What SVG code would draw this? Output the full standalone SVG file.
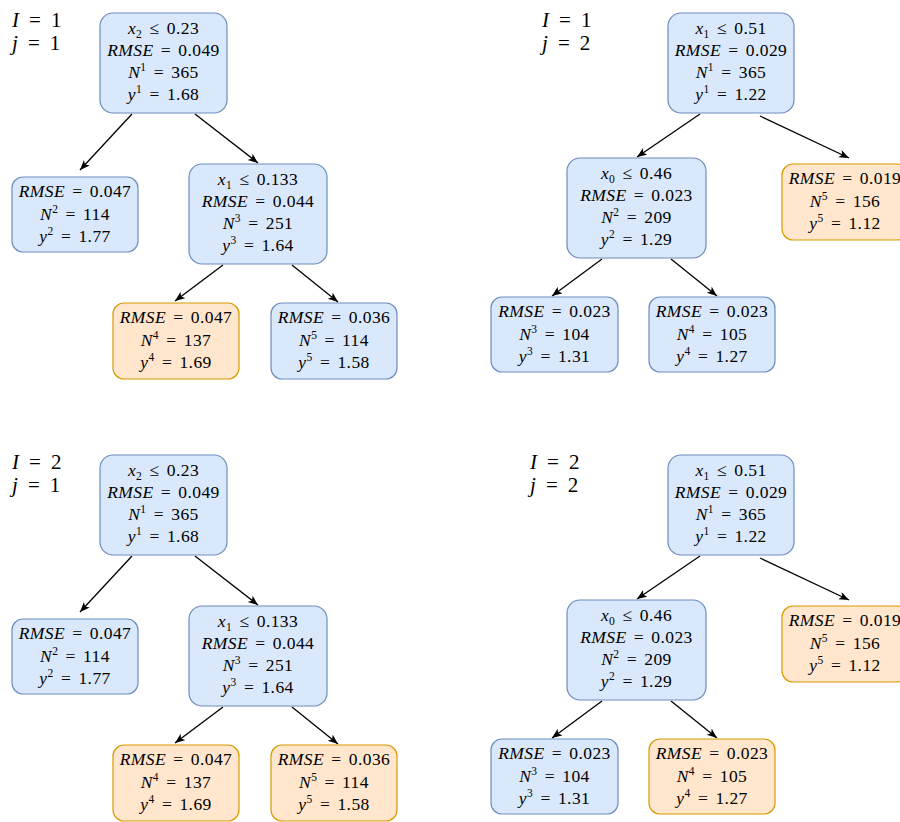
<svg xmlns="http://www.w3.org/2000/svg" width="900" height="822" viewBox="0 0 900 822">
<defs>
<style>
.b{fill:#dae8fc;stroke:#6c8ebf;stroke-width:1.2}
.o{fill:#ffe6cc;stroke:#d79b00;stroke-width:1.2}
text{font-family:"Liberation Serif","DejaVu Serif",serif;font-size:17.5px;fill:#000;text-anchor:middle;word-spacing:2.5px;letter-spacing:0.4px}
.lab{font-size:21px;text-anchor:start;word-spacing:4px}
.i{font-style:italic}
.s{font-size:11.5px}
.e{stroke:#000;stroke-width:1.3;fill:none;marker-end:url(#ar)}
</style>
<marker id="ar" markerUnits="userSpaceOnUse" markerWidth="12" markerHeight="10" refX="10" refY="4" orient="auto" viewBox="0 0 12 10">
<path d="M0,0 L10,4 L0,8 L2.5,4 z" fill="#000"/>
</marker>
</defs>

<!-- Panel labels -->
<g id="labels">
<text class="lab" x="12" y="27"><tspan class="i">I</tspan> = 1</text>
<text class="lab" x="12" y="50"><tspan class="i">j</tspan> = 1</text>
<text class="lab" x="542" y="27"><tspan class="i">I</tspan> = 1</text>
<text class="lab" x="542" y="50"><tspan class="i">j</tspan> = 2</text>
<text class="lab" x="12" y="469"><tspan class="i">I</tspan> = 2</text>
<text class="lab" x="12" y="492"><tspan class="i">j</tspan> = 1</text>
<text class="lab" x="530" y="469"><tspan class="i">I</tspan> = 2</text>
<text class="lab" x="530" y="492"><tspan class="i">j</tspan> = 2</text>
</g>

<g id="connectors">
<line class="e" x1="132" y1="114" x2="80" y2="170"/>
<line class="e" x1="195" y1="114" x2="258" y2="163"/>
<line class="e" x1="223" y1="265" x2="175" y2="301"/>
<line class="e" x1="292" y1="265" x2="338" y2="302"/>
<line class="e" x1="700" y1="114" x2="637" y2="157"/>
<line class="e" x1="760" y1="116" x2="849" y2="158"/>
<line class="e" x1="602" y1="259" x2="552" y2="296"/>
<line class="e" x1="671" y1="259" x2="717" y2="296"/>
<line class="e" x1="132" y1="556" x2="80" y2="612"/>
<line class="e" x1="195" y1="556" x2="258" y2="605"/>
<line class="e" x1="223" y1="707" x2="175" y2="743"/>
<line class="e" x1="292" y1="707" x2="338" y2="744"/>
<line class="e" x1="700" y1="556" x2="637" y2="599"/>
<line class="e" x1="760" y1="558" x2="849" y2="600"/>
<line class="e" x1="602" y1="701" x2="552" y2="738"/>
<line class="e" x1="671" y1="701" x2="717" y2="738"/>
</g>

<!-- Panel A: I=1, j=1 -->
<g id="a1">
<rect class="b" x="100" y="13" width="127" height="100" rx="13"/>
<text x="163.5" y="34"><tspan class="i">x</tspan><tspan class="s" dy="4">2</tspan><tspan dy="-4"> ≤ 0.23</tspan></text>
<text x="163.5" y="56"><tspan class="i">RMSE</tspan> = 0.049</text>
<text x="163.5" y="78"><tspan class="i">N</tspan><tspan class="s" dy="-7">1</tspan><tspan dy="7"> = 365</tspan></text>
<text x="163.5" y="100"><tspan class="i">y</tspan><tspan class="s" dy="-7">1</tspan><tspan dy="7"> = 1.68</tspan></text>
</g>
<g id="a2">
<rect class="b" x="12" y="177" width="126" height="75" rx="11"/>
<text x="75" y="197"><tspan class="i">RMSE</tspan> = 0.047</text>
<text x="75" y="220"><tspan class="i">N</tspan><tspan class="s" dy="-7">2</tspan><tspan dy="7"> = 114</tspan></text>
<text x="75" y="242"><tspan class="i">y</tspan><tspan class="s" dy="-7">2</tspan><tspan dy="7"> = 1.77</tspan></text>
</g>
<g id="a3">
<rect class="b" x="189" y="164" width="138" height="100" rx="13"/>
<text x="258" y="185"><tspan class="i">x</tspan><tspan class="s" dy="4">1</tspan><tspan dy="-4"> ≤ 0.133</tspan></text>
<text x="258" y="207"><tspan class="i">RMSE</tspan> = 0.044</text>
<text x="258" y="229"><tspan class="i">N</tspan><tspan class="s" dy="-7">3</tspan><tspan dy="7"> = 251</tspan></text>
<text x="258" y="251"><tspan class="i">y</tspan><tspan class="s" dy="-7">3</tspan><tspan dy="7"> = 1.64</tspan></text>
</g>
<g id="a4">
<rect class="o" x="113" y="303" width="126" height="76" rx="11"/>
<text x="176" y="323"><tspan class="i">RMSE</tspan> = 0.047</text>
<text x="176" y="346"><tspan class="i">N</tspan><tspan class="s" dy="-7">4</tspan><tspan dy="7"> = 137</tspan></text>
<text x="176" y="368"><tspan class="i">y</tspan><tspan class="s" dy="-7">4</tspan><tspan dy="7"> = 1.69</tspan></text>
</g>
<g id="a5">
<rect class="b" x="271" y="303" width="126" height="76" rx="11"/>
<text x="334" y="323"><tspan class="i">RMSE</tspan> = 0.036</text>
<text x="334" y="346"><tspan class="i">N</tspan><tspan class="s" dy="-7">5</tspan><tspan dy="7"> = 114</tspan></text>
<text x="334" y="368"><tspan class="i">y</tspan><tspan class="s" dy="-7">5</tspan><tspan dy="7"> = 1.58</tspan></text>
</g>

<!-- Panel B: I=1, j=2 -->
<g id="b1">
<rect class="b" x="668" y="13" width="126" height="100" rx="13"/>
<text x="731" y="34"><tspan class="i">x</tspan><tspan class="s" dy="4">1</tspan><tspan dy="-4"> ≤ 0.51</tspan></text>
<text x="731" y="56"><tspan class="i">RMSE</tspan> = 0.029</text>
<text x="731" y="78"><tspan class="i">N</tspan><tspan class="s" dy="-7">1</tspan><tspan dy="7"> = 365</tspan></text>
<text x="731" y="100"><tspan class="i">y</tspan><tspan class="s" dy="-7">1</tspan><tspan dy="7"> = 1.22</tspan></text>
</g>
<g id="b2">
<rect class="b" x="567" y="158" width="139" height="100" rx="13"/>
<text x="636.5" y="179"><tspan class="i">x</tspan><tspan class="s" dy="4">0</tspan><tspan dy="-4"> ≤ 0.46</tspan></text>
<text x="636.5" y="201"><tspan class="i">RMSE</tspan> = 0.023</text>
<text x="636.5" y="223"><tspan class="i">N</tspan><tspan class="s" dy="-7">2</tspan><tspan dy="7"> = 209</tspan></text>
<text x="636.5" y="245"><tspan class="i">y</tspan><tspan class="s" dy="-7">2</tspan><tspan dy="7"> = 1.29</tspan></text>
</g>
<g id="b5">
<rect class="o" x="782" y="164" width="126" height="76" rx="11"/>
<text x="845" y="184"><tspan class="i">RMSE</tspan> = 0.019</text>
<text x="845" y="207"><tspan class="i">N</tspan><tspan class="s" dy="-7">5</tspan><tspan dy="7"> = 156</tspan></text>
<text x="845" y="229"><tspan class="i">y</tspan><tspan class="s" dy="-7">5</tspan><tspan dy="7"> = 1.12</tspan></text>
</g>
<g id="b3">
<rect class="b" x="491" y="297" width="127" height="75" rx="11"/>
<text x="554.5" y="317"><tspan class="i">RMSE</tspan> = 0.023</text>
<text x="554.5" y="340"><tspan class="i">N</tspan><tspan class="s" dy="-7">3</tspan><tspan dy="7"> = 104</tspan></text>
<text x="554.5" y="362"><tspan class="i">y</tspan><tspan class="s" dy="-7">3</tspan><tspan dy="7"> = 1.31</tspan></text>
</g>
<g id="b4">
<rect class="b" x="649" y="297" width="126" height="75" rx="11"/>
<text x="712" y="317"><tspan class="i">RMSE</tspan> = 0.023</text>
<text x="712" y="340"><tspan class="i">N</tspan><tspan class="s" dy="-7">4</tspan><tspan dy="7"> = 105</tspan></text>
<text x="712" y="362"><tspan class="i">y</tspan><tspan class="s" dy="-7">4</tspan><tspan dy="7"> = 1.27</tspan></text>
</g>

<!-- Panel C: I=2, j=1 -->
<g id="c1">
<rect class="b" x="100" y="455" width="127" height="100" rx="13"/>
<text x="163.5" y="476"><tspan class="i">x</tspan><tspan class="s" dy="4">2</tspan><tspan dy="-4"> ≤ 0.23</tspan></text>
<text x="163.5" y="498"><tspan class="i">RMSE</tspan> = 0.049</text>
<text x="163.5" y="520"><tspan class="i">N</tspan><tspan class="s" dy="-7">1</tspan><tspan dy="7"> = 365</tspan></text>
<text x="163.5" y="542"><tspan class="i">y</tspan><tspan class="s" dy="-7">1</tspan><tspan dy="7"> = 1.68</tspan></text>
</g>
<g id="c2">
<rect class="b" x="12" y="619" width="126" height="75" rx="11"/>
<text x="75" y="639"><tspan class="i">RMSE</tspan> = 0.047</text>
<text x="75" y="662"><tspan class="i">N</tspan><tspan class="s" dy="-7">2</tspan><tspan dy="7"> = 114</tspan></text>
<text x="75" y="684"><tspan class="i">y</tspan><tspan class="s" dy="-7">2</tspan><tspan dy="7"> = 1.77</tspan></text>
</g>
<g id="c3">
<rect class="b" x="189" y="606" width="138" height="100" rx="13"/>
<text x="258" y="627"><tspan class="i">x</tspan><tspan class="s" dy="4">1</tspan><tspan dy="-4"> ≤ 0.133</tspan></text>
<text x="258" y="649"><tspan class="i">RMSE</tspan> = 0.044</text>
<text x="258" y="671"><tspan class="i">N</tspan><tspan class="s" dy="-7">3</tspan><tspan dy="7"> = 251</tspan></text>
<text x="258" y="693"><tspan class="i">y</tspan><tspan class="s" dy="-7">3</tspan><tspan dy="7"> = 1.64</tspan></text>
</g>
<g id="c4">
<rect class="o" x="113" y="745" width="126" height="76" rx="11"/>
<text x="176" y="765"><tspan class="i">RMSE</tspan> = 0.047</text>
<text x="176" y="788"><tspan class="i">N</tspan><tspan class="s" dy="-7">4</tspan><tspan dy="7"> = 137</tspan></text>
<text x="176" y="810"><tspan class="i">y</tspan><tspan class="s" dy="-7">4</tspan><tspan dy="7"> = 1.69</tspan></text>
</g>
<g id="c5">
<rect class="o" x="271" y="745" width="126" height="76" rx="11"/>
<text x="334" y="765"><tspan class="i">RMSE</tspan> = 0.036</text>
<text x="334" y="788"><tspan class="i">N</tspan><tspan class="s" dy="-7">5</tspan><tspan dy="7"> = 114</tspan></text>
<text x="334" y="810"><tspan class="i">y</tspan><tspan class="s" dy="-7">5</tspan><tspan dy="7"> = 1.58</tspan></text>
</g>

<!-- Panel D: I=2, j=2 -->
<g id="d1">
<rect class="b" x="668" y="455" width="126" height="100" rx="13"/>
<text x="731" y="476"><tspan class="i">x</tspan><tspan class="s" dy="4">1</tspan><tspan dy="-4"> ≤ 0.51</tspan></text>
<text x="731" y="498"><tspan class="i">RMSE</tspan> = 0.029</text>
<text x="731" y="520"><tspan class="i">N</tspan><tspan class="s" dy="-7">1</tspan><tspan dy="7"> = 365</tspan></text>
<text x="731" y="542"><tspan class="i">y</tspan><tspan class="s" dy="-7">1</tspan><tspan dy="7"> = 1.22</tspan></text>
</g>
<g id="d2">
<rect class="b" x="567" y="600" width="139" height="100" rx="13"/>
<text x="636.5" y="621"><tspan class="i">x</tspan><tspan class="s" dy="4">0</tspan><tspan dy="-4"> ≤ 0.46</tspan></text>
<text x="636.5" y="643"><tspan class="i">RMSE</tspan> = 0.023</text>
<text x="636.5" y="665"><tspan class="i">N</tspan><tspan class="s" dy="-7">2</tspan><tspan dy="7"> = 209</tspan></text>
<text x="636.5" y="687"><tspan class="i">y</tspan><tspan class="s" dy="-7">2</tspan><tspan dy="7"> = 1.29</tspan></text>
</g>
<g id="d5">
<rect class="o" x="782" y="606" width="126" height="76" rx="11"/>
<text x="845" y="626"><tspan class="i">RMSE</tspan> = 0.019</text>
<text x="845" y="649"><tspan class="i">N</tspan><tspan class="s" dy="-7">5</tspan><tspan dy="7"> = 156</tspan></text>
<text x="845" y="671"><tspan class="i">y</tspan><tspan class="s" dy="-7">5</tspan><tspan dy="7"> = 1.12</tspan></text>
</g>
<g id="d3">
<rect class="b" x="491" y="739" width="127" height="75" rx="11"/>
<text x="554.5" y="759"><tspan class="i">RMSE</tspan> = 0.023</text>
<text x="554.5" y="782"><tspan class="i">N</tspan><tspan class="s" dy="-7">3</tspan><tspan dy="7"> = 104</tspan></text>
<text x="554.5" y="804"><tspan class="i">y</tspan><tspan class="s" dy="-7">3</tspan><tspan dy="7"> = 1.31</tspan></text>
</g>
<g id="d4">
<rect class="o" x="649" y="739" width="126" height="75" rx="11"/>
<text x="712" y="759"><tspan class="i">RMSE</tspan> = 0.023</text>
<text x="712" y="782"><tspan class="i">N</tspan><tspan class="s" dy="-7">4</tspan><tspan dy="7"> = 105</tspan></text>
<text x="712" y="804"><tspan class="i">y</tspan><tspan class="s" dy="-7">4</tspan><tspan dy="7"> = 1.27</tspan></text>
</g>
</svg>
